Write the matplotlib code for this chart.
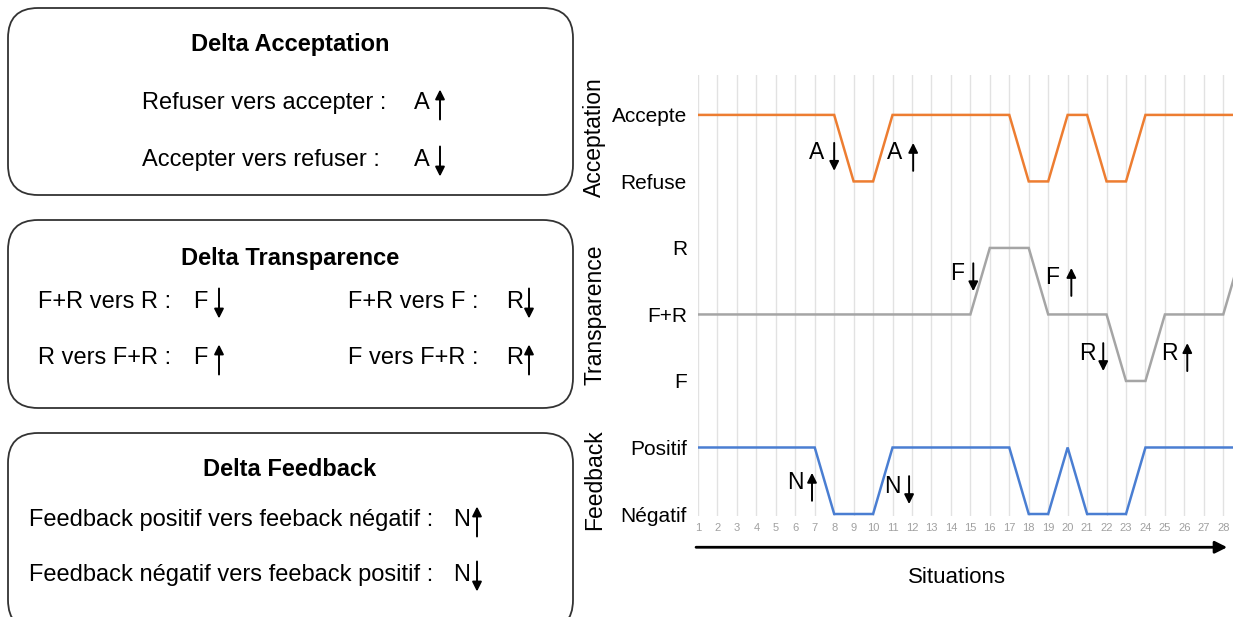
import matplotlib
matplotlib.use("Agg")
import matplotlib.pyplot as plt
from matplotlib.patches import FancyBboxPatch

plt.rcParams["font.family"] = ["Liberation Sans", "DejaVu Sans"]

# ---- data ----
situations = list(range(1, 30))  # 29 only visible as the clipped rise at the right edge
acceptation = ["Accepte", "Accepte", "Accepte", "Accepte", "Accepte", "Accepte", "Accepte",
               "Accepte", "Refuse", "Refuse", "Accepte", "Accepte", "Accepte", "Accepte",
               "Accepte", "Accepte", "Accepte", "Refuse", "Refuse", "Accepte", "Accepte",
               "Refuse", "Refuse", "Accepte", "Accepte", "Accepte", "Accepte", "Accepte",
               "Accepte"]
transparence = ["F+R", "F+R", "F+R", "F+R", "F+R", "F+R", "F+R", "F+R", "F+R", "F+R",
                "F+R", "F+R", "F+R", "F+R", "F+R", "R", "R", "R", "F+R", "F+R", "F+R",
                "F+R", "F", "F", "F+R", "F+R", "F+R", "F+R", "R"]
feedback = ["Positif", "Positif", "Positif", "Positif", "Positif", "Positif", "Positif",
            "Négatif", "Négatif", "Négatif", "Positif", "Positif", "Positif", "Positif",
            "Positif", "Positif", "Positif", "Négatif", "Négatif", "Positif", "Négatif",
            "Négatif", "Négatif", "Positif", "Positif", "Positif", "Positif", "Positif",
            "Positif"]

level_labels = ["Négatif", "Positif", "F", "F+R", "R", "Refuse", "Accepte"]
group_labels = ["Feedback", "Transparence", "Acceptation"]
tick_labels = [str(s) for s in range(1, 29)]

# letter, direction, letter x, letter y, arrow x  (chart annotations, data coords)
chart_marks = [
    ("A", "down", 7.07, 5.43, 8.0),
    ("A", "up", 11.13, 5.43, 12.06),
    ("F", "down", 14.32, 3.62, 15.15),
    ("F", "up", 19.21, 3.55, 20.19),
    ("R", "down", 21.01, 2.42, 21.83),
    ("R", "up", 25.23, 2.42, 26.15),
    ("N", "up", 5.99, 0.47, 6.86),
    ("N", "down", 10.98, 0.42, 11.85),
]

W, H = 1233, 617
fig = plt.figure(figsize=(W / 100, H / 100), dpi=100)

# ---- left panel, pixel coordinates ----
pan = fig.add_axes([0, 0, 1, 1])
pan.set_xlim(0, W)
pan.set_ylim(H, 0)
pan.axis("off")

ARROW = dict(arrowstyle="-|>", color="black", lw=1.4, mutation_scale=14,
             shrinkA=0, shrinkB=0)


def vert_arrow(ax, x, y_letter, direction, half, sign=1):
    # sign=1 for y growing upward (data), -1 for pixel coords
    top = y_letter + sign * half * 0.9
    bot = y_letter - sign * half * 1.1
    start, end = (bot, top) if direction == "up" else (top, bot)
    ax.annotate("", xy=(x, end), xytext=(x, start), arrowprops=ARROW,
                annotation_clip=False)


boxes = [(8, 8, 565, 187), (8, 220, 565, 188), (8, 433, 565, 197)]
for bx, by, bw, bh in boxes:
    pan.add_patch(FancyBboxPatch((bx, by), bw, bh,
                                 boxstyle="round,pad=0,rounding_size=30",
                                 fc="white", ec="#333333", lw=1.3))

fs = 17
pan.text(290, 45, "Delta Acceptation", ha="center", va="center", fontsize=fs, weight="bold")
pan.text(290, 258, "Delta Transparence", ha="center", va="center", fontsize=fs, weight="bold")
pan.text(290, 470, "Delta Feedback", ha="center", va="center", fontsize=fs, weight="bold")

rows = [
    (142, 103, "Refuser vers accepter :", 422, "A", 440, "up"),
    (142, 160, "Accepter vers refuser :", 422, "A", 440, "down"),
    (38, 302, "F+R vers R :", 200, "F", 219, "down"),
    (38, 358, "R vers F+R :", 200, "F", 219, "up"),
    (348, 302, "F+R vers F :", 515, "R", 529, "down"),
    (348, 358, "F vers F+R :", 515, "R", 529, "up"),
    (29, 520, "Feedback positif vers feeback négatif :", 462, "N", 477, "up"),
    (29, 575, "Feedback négatif vers feeback positif :", 462, "N", 477, "down"),
]
for tx, ty, txt, lx, letter, axx, d in rows:
    pan.text(tx, ty, txt, ha="left", va="center", fontsize=fs)
    pan.text(lx, ty, letter, ha="center", va="center", fontsize=fs)
    vert_arrow(pan, axx, ty, d, 15, sign=-1)

# ---- right chart ----
ax = fig.add_axes([698 / W, (H - 516) / H, 535 / W, 441 / H])
ax.set_facecolor("none")
ax.set_xlim(1, 28.5)
ax.set_ylim(-0.03, 6.6)

ypos = {lab: i for i, lab in enumerate(level_labels)}
series = [(acceptation, "#ED7D31"), (transparence, "#A5A5A5"), (feedback, "#4A7ED2")]
for states, color in series:
    ax.plot(situations, [ypos[s] for s in states], color=color, lw=1.8,
            solid_joinstyle="miter", zorder=3)

ax.set_xticks(range(1, 29))
ax.set_xticklabels(tick_labels, fontsize=8, color="#a0a0a0")
ax.set_yticks(range(len(level_labels)))
ax.set_yticklabels(level_labels, fontsize=15)
ax.tick_params(axis="x", length=0, pad=5)
ax.tick_params(axis="y", length=0, pad=8)
ax.grid(axis="x", color="#e2e2e2", lw=1)
ax.set_axisbelow(True)
for sp in ax.spines.values():
    sp.set_visible(False)

for lab, yc in zip(group_labels, [0.51, 3.0, 5.67]):
    ax.text(-4.3, yc, lab, rotation=90, ha="center", va="center", fontsize=16.5,
            clip_on=False)

for letter, d, lx, ly, axx in chart_marks:
    ax.text(lx, ly, letter, ha="center", va="center", fontsize=16.5, zorder=4)
    vert_arrow(ax, axx, ly - 0.04, d, 0.21)

ax.annotate("", xy=(28.2, -0.5), xytext=(0.9, -0.5), annotation_clip=False,
            arrowprops=dict(arrowstyle="-|>", color="black", lw=2,
                            mutation_scale=18, shrinkA=0, shrinkB=0))
ax.text(14.3, -0.95, "Situations", ha="center", va="center", fontsize=16)

fig.savefig("out.png", dpi=100)
